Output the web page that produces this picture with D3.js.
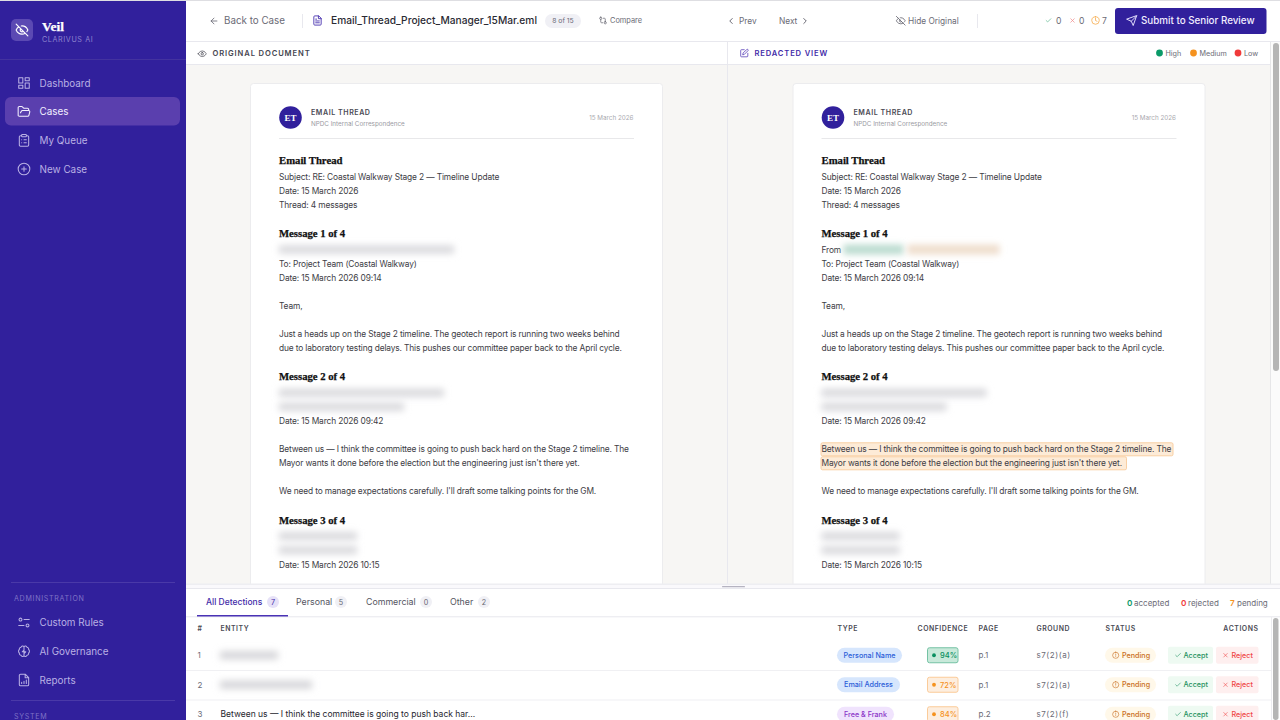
<!DOCTYPE html>
<html>
<head>
<meta charset="utf-8">
<style>
  html, body { margin: 0; padding: 0; background: #fff; overflow: hidden; }
  svg { display: block; }
</style>
<script src="https://cdn.jsdelivr.net/npm/d3@7"></script>
</head>
<body>
<svg id="app" width="1280" height="720"></svg>
<script>
// --- content ---
const navLabels = ['Dashboard', 'Cases', 'My Queue', 'New Case'];
const navIcons = ['dash', 'folder', 'clip', 'plus'];
const adminLabels = ['Custom Rules', 'AI Governance', 'Reports'];
const adminIcons = ['sliders', 'brain', 'report'];

const tabLabels = ['All Detections', 'Personal', 'Commercial', 'Other'];
const tabCounts = [7, 5, 0, 2];

const tableHeads = ['#', 'ENTITY', 'TYPE', 'CONFIDENCE', 'PAGE', 'GROUND', 'STATUS', 'ACTIONS'];
const rowIds = [1, 2, 3];
const entities = [null, null, 'Between us — I think the committee is going to push back har...'];
const blurWidths = [58, 92, 0];
const entityTypes = ['Personal Name', 'Email Address', 'Free & Frank'];
const confidence = [94, 72, 84];
const pages = ['p.1', 'p.1', 'p.2'];
const grounds = ['s7(2)(a)', 's7(2)(a)', 's7(2)(f)'];

// k: h heading, t text, b blank, x redacted line
const docKinds = ['h','t','t','t','h','x','t','t','b','t','b','t','t','h','x','x','t','b','t','t','b','t','h','x','x','t'];
const docTexts = [
  'Email Thread', 'Subject: RE: Coastal Walkway Stage 2 — Timeline Update', 'Date: 15 March 2026', 'Thread: 4 messages',
  'Message 1 of 4', '', 'To: Project Team (Coastal Walkway)', 'Date: 15 March 2026 09:14', '', 'Team,', '',
  'Just a heads up on the Stage 2 timeline. The geotech report is running two weeks behind',
  'due to laboratory testing delays. This pushes our committee paper back to the April cycle.',
  'Message 2 of 4', '', '', 'Date: 15 March 2026 09:42', '',
  'Between us — I think the committee is going to push back hard on the Stage 2 timeline. The',
  'Mayor wants it done before the election but the engineering just isn\'t there yet.', '',
  'We need to manage expectations carefully. I\'ll draft some talking points for the GM.',
  'Message 3 of 4', '', '', 'Date: 15 March 2026 10:15'
];
const redactWidths = [175, 165, 125, 78, 78, 52];
const legendLabels = ['High', 'Medium', 'Low'];

const C = { side: '#31209c', ink: '#2a2a33', body: '#3d3d45', grey: '#6b6b76', line: '#e8e8ee', sideText: '#b9b0e4' };
const SANS = 'Inter, "Noto Sans", sans-serif';
const SERIF = '"Liberation Serif", serif';

const circlePath = 'M12 2a10 10 0 1 0 0 20a10 10 0 1 0 0-20z';
const icons = {
  eyeoff: 'M9.88 9.88a3 3 0 1 0 4.24 4.24M10.73 5.08A10.43 10.43 0 0 1 12 5c7 0 10 7 10 7a13.16 13.16 0 0 1-1.67 2.68M6.61 6.61A13.526 13.526 0 0 0 2 12s3 7 10 7a9.74 9.74 0 0 0 5.39-1.61M2 2l20 20',
  dash: 'M3 3h7v9H3zM14 3h7v5h-7zM14 12h7v9h-7zM3 16h7v5H3z',
  folder: 'm6 14 1.45-2.9A2 2 0 0 1 9.24 10H20a2 2 0 0 1 1.94 2.5l-1.55 6a2 2 0 0 1-1.94 1.5H4a2 2 0 0 1-2-2V5c0-1.1.9-2 2-2h3.93a2 2 0 0 1 1.66.9l.82 1.2a2 2 0 0 0 1.66.9H18a2 2 0 0 1 2 2v2',
  clip: 'M9 2h6a1 1 0 0 1 1 1v2a1 1 0 0 1-1 1H9a1 1 0 0 1-1-1V3a1 1 0 0 1 1-1zM16 4h2a2 2 0 0 1 2 2v14a2 2 0 0 1-2 2H6a2 2 0 0 1-2-2V6a2 2 0 0 1 2-2h2M12 11h4M12 16h4M8 11h.01M8 16h.01',
  plus: circlePath + 'M8 12h8M12 8v8',
  sliders: 'M12 7h9M3 17h9M6 4.5a2.5 2.5 0 1 0 0 5a2.5 2.5 0 1 0 0-5zM18 14.5a2.5 2.5 0 1 0 0 5a2.5 2.5 0 1 0 0-5z',
  brain: 'M12 4a3 3 0 0 1 5 1a3.5 3.5 0 0 1 3 4a4 4 0 0 1 0 6a3.5 3.5 0 0 1-3 4a3 3 0 0 1-5 1a3 3 0 0 1-5-1a3.5 3.5 0 0 1-3-4a4 4 0 0 1 0-6a3.5 3.5 0 0 1 3-4a3 3 0 0 1 5-1zM12 4v16M12 10l-3 3h6l-3 3',
  report: 'M14 2H6a2 2 0 0 0-2 2v16a2 2 0 0 0 2 2h12a2 2 0 0 0 2-2V8zM14 2v6h6M8 18v-2M12 18v-4M16 18v-6',
  back: 'M19 12H5M12 19l-7-7 7-7',
  file: 'M14 2H6a2 2 0 0 0-2 2v16a2 2 0 0 0 2 2h12a2 2 0 0 0 2-2V8zM14 2v6h6M16 13H8M16 17H8M10 9H8',
  compare: 'M13 6h3a2 2 0 0 1 2 2v7M11 18H8a2 2 0 0 1-2-2V9M6 3a3 3 0 1 0 0 6a3 3 0 1 0 0-6zM18 15a3 3 0 1 0 0 6a3 3 0 1 0 0-6z',
  left: 'm15 18-6-6 6-6',
  right: 'm9 18 6-6-6-6',
  check: 'M20 6 9 17l-5-5',
  x: 'M18 6 6 18M6 6l12 12',
  clock: circlePath + 'M12 6v6l4 2',
  alert: circlePath + 'M12 8v4M12 16h.01',
  send: 'm22 2-7 20-4-9-9-4ZM22 2 11 13',
  eye: 'M2 12s3-7 10-7 10 7 10 7-3 7-10 7-10-7-10-7ZM12 9a3 3 0 1 0 0 6a3 3 0 1 0 0-6z',
  edit: 'M12 3H5a2 2 0 0 0-2 2v14a2 2 0 0 0 2 2h14a2 2 0 0 0 2-2v-7M18.375 2.625a2.121 2.121 0 1 1 3 3L12 15l-4 1 1-4Z'
};

const svg = d3.select('#app');
const defs = svg.append('defs');
[['blur3', 3.6], ['blur2', 3.4]].forEach(function (b) {
  defs.append('filter').attr('id', b[0]).attr('x', '-30%').attr('y', '-200%').attr('width', '160%').attr('height', '500%')
    .append('feGaussianBlur').attr('stdDeviation', b[1]);
});
defs.append('clipPath').attr('id', 'docclip').append('rect').attr('x', 186).attr('y', 65).attr('width', 1084).attr('height', 519);

// helpers
function txt(g, x, y, s, size, fill, o) {
  o = o || {};
  return g.append('text').attr('x', x).attr('y', y).text(s)
    .attr('font-family', o.font || SANS).attr('font-size', size).attr('fill', fill)
    .attr('font-weight', o.weight || 400).attr('text-anchor', o.anchor || 'start')
    .attr('letter-spacing', o.ls || null);
}
function icon(g, name, x, y, size, color, sw) {
  return g.append('path').attr('d', icons[name]).attr('transform', 'translate(' + x + ',' + y + ') scale(' + size / 24 + ')')
    .attr('fill', 'none').attr('stroke', color).attr('stroke-width', sw || 2).attr('stroke-linecap', 'round').attr('stroke-linejoin', 'round');
}
function box(g, x, y, w, h, fill, r, stroke) {
  return g.append('rect').attr('x', x).attr('y', y).attr('width', w).attr('height', h).attr('fill', fill)
    .attr('rx', r || 0).attr('stroke', stroke || 'none');
}
function heading(g, x, y, s, size, fill) {
  return txt(g, x, y, s, size, fill, { font: SERIF, weight: 700 }).attr('stroke', fill).attr('stroke-width', 0.25);
}

// --- sidebar ---
const side = svg.append('g');
box(side, 0, 0, 186, 720, C.side);
box(side, 11, 19, 22, 22, '#5b49b3', 5);
icon(side, 'eyeoff', 15, 23, 14, '#ffffff', 2);
heading(side, 42, 31, 'Veil', 13.5, '#fff');
txt(side, 42, 42, 'CLARIVUS AI', 7.2, '#8f84cf', { ls: 0.6 });
box(side, 0, 59, 186, 1, '#43329f');
box(side, 5, 97, 175, 28.5, '#5a3fae', 6);

const navY = d3.scalePoint().domain(navLabels).range([83, 169]);
navLabels.forEach(function (n, i) {
  const on = n === 'Cases';
  icon(side, navIcons[i], 17, navY(n) - 7, 14, on ? '#f3f0ff' : C.sideText, 1.8);
  txt(side, 39.5, navY(n) + 3.6, n, 9.9, on ? '#f3f0ff' : C.sideText);
});

box(side, 11, 582, 164, 1, '#4a39a8');
txt(side, 14, 601, 'ADMINISTRATION', 7.1, '#7f72c6', { ls: 0.7 });
const adminY = d3.scalePoint().domain(adminLabels).range([622.5, 680]);
adminLabels.forEach(function (n, i) {
  icon(side, adminIcons[i], 17, adminY(n) - 7, 14, C.sideText, 1.8);
  txt(side, 39.5, adminY(n) + 3.6, n, 9.9, C.sideText);
});
box(side, 11, 700, 164, 1, '#4a39a8');
txt(side, 14, 719, 'SYSTEM', 7.1, '#7f72c6', { ls: 0.7 });

// --- top bar ---
const topbar = svg.append('g');
box(topbar, 186, 0, 1094, 41, '#fff');
box(topbar, 0, 0, 1280, 1, '#dedee2');
box(topbar, 186, 41, 1094, 1, C.line);
icon(topbar, 'back', 209, 16, 10, C.grey, 2);
txt(topbar, 224, 24, 'Back to Case', 9.8, C.grey);
box(topbar, 302, 14, 1, 14, C.line);
icon(topbar, 'file', 312, 15, 11, '#4a35b0', 2);
txt(topbar, 331, 24.3, 'Email_Thread_Project_Manager_15Mar.eml', 10.2, C.ink, { weight: 500 });
box(topbar, 545, 14, 36, 14, '#f0f0f5', 7);
txt(topbar, 563, 23.4, '8 of 15', 6.8, C.grey, { anchor: 'middle' });
icon(topbar, 'compare', 598.5, 16, 9, C.grey, 2);
txt(topbar, 610, 23.3, 'Compare', 7.4, C.grey);
icon(topbar, 'left', 726, 16, 10, C.grey, 2.4);
txt(topbar, 739, 24, 'Prev', 8.3, C.grey);
txt(topbar, 779, 24, 'Next', 8.3, C.grey);
icon(topbar, 'right', 800, 16, 10, C.grey, 2.4);
icon(topbar, 'eyeoff', 895.5, 15.5, 10.5, C.grey, 2);
txt(topbar, 908, 24, 'Hide Original', 8.3, C.grey);
box(topbar, 977, 14, 1, 14, C.line);
icon(topbar, 'check', 1045, 17, 7, '#5fb98f', 2.4);
txt(topbar, 1056, 24, '0', 8.6, C.grey);
icon(topbar, 'x', 1069, 17, 7, '#f08a8a', 2.4);
txt(topbar, 1079, 24, '0', 8.6, C.grey);
icon(topbar, 'clock', 1091, 16, 9, '#f5a742', 2);
txt(topbar, 1102, 24, '7', 8.6, C.grey);
box(topbar, 1115, 8, 151.5, 26, '#31209c', 3);
icon(topbar, 'send', 1126, 15, 11.5, '#e6e2ff', 2);
txt(topbar, 1141, 24.3, 'Submit to Senior Review', 9.8, '#f1eeff', { weight: 500 });

// --- panel headers ---
const heads = svg.append('g');
box(heads, 186, 42, 1094, 22, '#fff');
box(heads, 186, 64, 1084, 1.2, C.line);
icon(heads, 'eye', 197.5, 49, 9.5, '#55555f', 2);
txt(heads, 212.5, 56, 'ORIGINAL DOCUMENT', 7.6, '#45454f', { weight: 600, ls: 0.88 });
icon(heads, 'edit', 739.5, 48.5, 9.5, '#5a41b8', 2);
txt(heads, 754.5, 56, 'REDACTED VIEW', 7.6, '#3f2aa8', { weight: 600, ls: 0.85 });

const legendX = d3.scaleOrdinal().domain(legendLabels).range([1159.5, 1193.5, 1238]);
const legendColor = d3.scaleOrdinal().domain(legendLabels).range(['#0a9a68', '#f5921e', '#f03a3a']);
legendLabels.forEach(function (l) {
  heads.append('circle').attr('cx', legendX(l)).attr('cy', 53).attr('r', 3.4).attr('fill', legendColor(l));
  txt(heads, legendX(l) + 6, 55.7, l, 7.2, '#6b6b76');
});

// --- document panes ---
const panes = svg.append('g');
box(panes, 186, 65, 1084, 519, '#f7f6f4');
box(panes, 727, 42, 1, 542, C.line);
const clipped = panes.append('g').attr('clip-path', 'url(#docclip)');

function drawDoc(dx, redacted) {
  const g = clipped.append('g').attr('transform', 'translate(' + dx + ',0)');
  box(g, 250.5, 83.5, 412, 560, '#fff', 3, '#ececee');
  g.append('circle').attr('cx', 290.5).attr('cy', 117.5).attr('r', 11.3).attr('fill', C.side);
  txt(g, 290.5, 121, 'ET', 9, '#fff', { font: SERIF, weight: 700, anchor: 'middle' });
  txt(g, 311, 115, 'EMAIL THREAD', 7.1, '#4a4a54', { weight: 600, ls: 0.55 });
  txt(g, 311, 126, 'NPDC Internal Correspondence', 6.3, '#9a9aa2');
  txt(g, 633.5, 120, '15 March 2026', 6.3, '#aaaab0', { anchor: 'end' });
  box(g, 279, 138, 355, 1, '#e8e8ea');

  let y = 160;
  let redactIndex = 0;
  let prev = null;
  docKinds.forEach(function (k, i) {
    if (prev) {
      if (k === 'h') y += 29.1;
      else if (prev === 'h') y += 16.2;
      else y += 14;
    }
    prev = k;
    if (k === 'h') {
      heading(g, 279, y + 3.6, docTexts[i], 10.7, '#111');
    } else if (k === 't') {
      const hi = redacted && docTexts[i].indexOf('Between us') === 0;
      const hi2 = redacted && docTexts[i].indexOf('Mayor wants') === 0;
      if (hi) box(g, 278.5, y - 6, 352, 13, '#fdebd7', 1.5, '#f8cfa3');
      if (hi2) box(g, 278.5, y - 6, 305.5, 13, '#fdebd7', 1.5, '#f8cfa3');
      txt(g, 279, y + 3.4, docTexts[i], 8.4, C.body, { ls: -0.14 });
    } else if (k === 'x') {
      const w = redactWidths[redactIndex++];
      if (redacted && redactIndex === 1) {
        txt(g, 279, y + 3.4, 'From', 8.4, C.body, { ls: -0.14 });
        box(g, 301, y - 5, 60, 10, '#bcdcd0').attr('filter', 'url(#blur2)');
        box(g, 365, y - 5, 92, 10, '#efdecd').attr('filter', 'url(#blur2)');
      } else {
        box(g, 279, y - 4, w, 8, '#d8d8dc').attr('filter', 'url(#blur3)');
      }
    }
  });
}
drawDoc(0, false);
drawDoc(542.5, true);

// scrollbar of the document area
box(panes, 1270, 42, 1, 542, '#e6e6e8');
box(panes, 1271, 42, 9, 542, '#fbfbfb');
box(panes, 1273, 43, 6, 328, '#b5b5b5', 3);

// --- bottom panel ---
const bottom = svg.append('g');
box(bottom, 186, 584, 1094, 136, '#fff');
box(bottom, 186, 583.5, 1094, 1.5, '#eeeef2');
box(bottom, 186, 585, 1094, 3, '#faf9fc');
box(bottom, 186, 588, 1094, 1, C.line);
box(bottom, 722, 586, 23, 1.3, '#b5b3c0', 0.6);
box(bottom, 186, 616, 1094, 1.4, '#eeeef2');

const tabX = d3.scaleOrdinal().domain(tabLabels).range([206, 296, 366, 450]);
const tabBadge = d3.scaleOrdinal().domain(tabLabels).range([273, 341, 426, 484]);
tabLabels.forEach(function (t, i) {
  const on = i === 0;
  txt(bottom, tabX(t), 605, t, on ? 8.5 : 8.8, on ? '#3f2aa8' : '#55555f', { weight: on ? 500 : 400 });
  bottom.append('circle').attr('cx', tabBadge(t)).attr('cy', 602).attr('r', 6).attr('fill', on ? '#e6e1f7' : '#f0f0f5');
  txt(bottom, tabBadge(t), 604.8, tabCounts[i], 7.2, on ? '#3f2aa8' : '#66666f', { anchor: 'middle' });
});
box(bottom, 197, 615, 91, 1.5, '#4a33b5');

txt(bottom, 1127, 605.5, '0', 8.2, '#0a9a68', { weight: 600 });
txt(bottom, 1134, 605.5, 'accepted', 8, C.grey);
txt(bottom, 1181, 605.5, '0', 8.2, '#f03a3a', { weight: 600 });
txt(bottom, 1188, 605.5, 'rejected', 8, C.grey);
txt(bottom, 1230, 605.5, '7', 8.2, '#f5921e', { weight: 600 });
txt(bottom, 1237, 605.5, 'pending', 8, C.grey);

const colX = d3.scaleOrdinal().domain(tableHeads).range([197.5, 220.5, 837.5, 917.5, 978.5, 1036.5, 1105.5, 1258.5]);
tableHeads.forEach(function (h) {
  txt(bottom, colX(h), 631, h, 6.9, '#4a4a54', { weight: 600, ls: 0.55, anchor: h === 'ACTIONS' ? 'end' : 'start' });
});

const rowY = d3.scaleBand().domain(rowIds).range([640.5, 729]);
const typeBg = { 'Personal Name': '#d6e6fd', 'Email Address': '#d6e6fd', 'Free & Frank': '#f0e3fd' };
const typeFg = { 'Personal Name': '#2b5dd8', 'Email Address': '#2b5dd8', 'Free & Frank': '#8a33c8' };
const typeW = { 'Personal Name': 65, 'Email Address': 63, 'Free & Frank': 57 };
function confStyle(v) {
  return v >= 90 ? { bg: '#c8e9da', bd: '#74c2a4', fg: '#0a8f60' } : { bg: '#fdeedf', bd: '#fbcb99', fg: '#f5921e' };
}

rowIds.forEach(function (id, i) {
  const cy = rowY(id) + rowY.bandwidth() / 2;
  const base = cy + 3;
  if (i > 0) box(bottom, 186, rowY(id), 1085, 1, '#f0f0f3');
  txt(bottom, 197.5, base, id, 8, '#6b6b76');
  if (entities[i]) {
    txt(bottom, 220.5, base, entities[i], 8.5, '#26262e');
  } else {
    box(bottom, 220, cy - 4, blurWidths[i], 8, '#d4d4d8').attr('filter', 'url(#blur3)');
  }
  const t = entityTypes[i];
  box(bottom, 837, cy - 7.5, typeW[t], 15, typeBg[t], 7.5);
  txt(bottom, 837 + typeW[t] / 2, base - 0.3, t, 7.2, typeFg[t], { anchor: 'middle', weight: 500 });

  const cs = confStyle(confidence[i]);
  box(bottom, 927.5, cy - 7.5, 30.5, 15, cs.bg, 2, cs.bd);
  bottom.append('circle').attr('cx', 934).attr('cy', cy).attr('r', 1.9).attr('fill', cs.fg);
  txt(bottom, 940, base - 0.2, confidence[i] + '%', 7.5, cs.fg, { weight: 500 });

  txt(bottom, 978.5, base, pages[i], 8, '#6b6b76');
  txt(bottom, 1036.5, base, grounds[i], 8, '#6b6b76', { ls: 0.55 });

  box(bottom, 1105, cy - 7.5, 51, 15, '#fff8e9', 7.5);
  icon(bottom, 'alert', 1112, cy - 3.7, 7.4, '#c96f22', 2);
  txt(bottom, 1122, base - 0.3, 'Pending', 7.2, '#c96f22', { weight: 500 });

  box(bottom, 1168, cy - 8.5, 45, 17, '#eefaf2', 2);
  icon(bottom, 'check', 1174.5, cy - 3.5, 7, '#1d9160', 2);
  txt(bottom, 1183.5, base - 0.3, 'Accept', 7.2, '#1d9160', { weight: 500 });
  box(bottom, 1216, cy - 8.5, 42.5, 17, '#feefef', 2);
  icon(bottom, 'x', 1222, cy - 3.5, 7, '#ef4444', 2);
  txt(bottom, 1231.5, base - 0.3, 'Reject', 7.2, '#ef4444', { weight: 500 });
});

box(bottom, 1271, 617, 1, 103, '#ececf0');
box(bottom, 1273, 618, 5.5, 102, '#b5b5b5', 2.7);
</script>
</body>
</html>
